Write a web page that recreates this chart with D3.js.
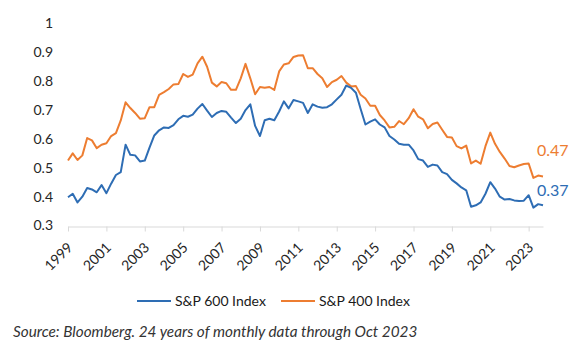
<!DOCTYPE html>
<html>
<head>
<meta charset="utf-8">
<script src="https://cdn.jsdelivr.net/npm/d3@7"></script>
<style>
  body { margin: 0; background: #fff; }
  svg { font-family: Lato, "Open Sans", sans-serif; }
</style>
</head>
<body>
<div id="chart"></div>
<script>
// Quarterly readings, Jan 1999 .. Oct 2023
const startDate = new Date(1999, 0, 1);
const endDate = new Date(2023, 9, 1);

const sp600 = [
  0.398, 0.41, 0.38, 0.40, 0.43, 0.425, 0.415, 0.44, 0.412, 0.445,
  0.475, 0.485, 0.58, 0.545, 0.543, 0.522, 0.525, 0.57, 0.612, 0.63,
  0.64, 0.638, 0.648, 0.668, 0.68, 0.677, 0.684, 0.705, 0.721, 0.698,
  0.676, 0.69, 0.697, 0.694, 0.674, 0.655, 0.67, 0.70, 0.72, 0.645,
  0.61, 0.665, 0.67, 0.665, 0.695, 0.73, 0.706, 0.735, 0.73, 0.725,
  0.69, 0.72, 0.712, 0.708, 0.71, 0.72, 0.737, 0.753, 0.785, 0.777,
  0.76, 0.704, 0.65, 0.66, 0.668, 0.65, 0.64, 0.61, 0.598, 0.583,
  0.58, 0.58, 0.56, 0.53, 0.525, 0.503, 0.511, 0.508, 0.485, 0.478,
  0.458, 0.446, 0.432, 0.422, 0.365, 0.37, 0.38, 0.41, 0.45, 0.428,
  0.40, 0.39, 0.392, 0.387, 0.385, 0.386, 0.405, 0.362, 0.374, 0.37
];

const sp400 = [
  0.525, 0.55, 0.527, 0.543, 0.603, 0.595, 0.568, 0.58, 0.585, 0.61,
  0.62, 0.664, 0.727, 0.707, 0.69, 0.67, 0.672, 0.71, 0.71, 0.753,
  0.762, 0.773, 0.789, 0.79, 0.825, 0.815, 0.823, 0.862, 0.885, 0.85,
  0.795, 0.782, 0.797, 0.793, 0.77, 0.77, 0.81, 0.86, 0.81, 0.755,
  0.78, 0.777, 0.78, 0.77, 0.834, 0.858, 0.862, 0.884, 0.889, 0.89,
  0.845, 0.845, 0.825, 0.81, 0.78, 0.797, 0.805, 0.818, 0.795, 0.782,
  0.783, 0.753, 0.74, 0.715, 0.715, 0.683, 0.664, 0.64, 0.642, 0.662,
  0.651, 0.672, 0.703, 0.677, 0.668, 0.637, 0.652, 0.657, 0.632, 0.607,
  0.605, 0.575, 0.567, 0.577, 0.515, 0.525, 0.514, 0.575, 0.622, 0.583,
  0.555, 0.532, 0.506, 0.502, 0.508, 0.513, 0.515, 0.465, 0.473, 0.47
];

const yTicks = [0.3, 0.4, 0.5, 0.6, 0.7, 0.8, 0.9, 1];
const xTickYears = [1999, 2001, 2003, 2005, 2007, 2009, 2011, 2013, 2015, 2017, 2019, 2021, 2023];
const seriesNames = ["S&P 600 Index", "S&P 400 Index"];
const endLabels = ["0.37", "0.47"];

const blue = "#2E6DB4";
const orange = "#ED7D31";

const width = 583, height = 350;

const svg = d3.select("#chart").append("svg")
  .attr("width", width)
  .attr("height", height);

const dates = d3.timeMonth.every(3).range(startDate, d3.timeMonth.offset(endDate, 1));

const x = d3.scaleTime()
  .domain([startDate, endDate])
  .range([68, 543]);

const y = d3.scaleLinear()
  .domain([0.3, 1])
  .range([225.5, 23.5]);

// y labels (no axis line)
svg.append("g")
  .selectAll("text")
  .data(yTicks)
  .enter().append("text")
  .attr("x", 53)
  .attr("y", d => y(d))
  .attr("dy", "0.35em")
  .attr("text-anchor", "end")
  .style("font-size", "14px")
  .style("fill", "#262626")
  .text(d => d3.format("")(d));

// x axis
const xAxis = svg.append("g")
  .attr("transform", `translate(0,${y(0.3) + 1})`)
  .call(d3.axisBottom(x)
    .tickValues(xTickYears.map(yr => new Date(yr, 0, 1)))
    .tickSize(5)
    .tickSizeOuter(0)
    .tickFormat(d3.timeFormat("%Y")));

xAxis.select(".domain").attr("stroke", "#d9d9d9");
xAxis.selectAll(".tick line").attr("stroke", "#d9d9d9");
xAxis.selectAll(".tick text")
  .attr("y", 0)
  .attr("dy", 0)
  .attr("text-anchor", "end")
  .attr("transform", "translate(5,22) rotate(-45)")
  .style("font-family", "Lato, sans-serif")
  .style("font-size", "14px")
  .style("fill", "#262626");

// lines
const line = d3.line()
  .x((d, i) => x(dates[i]))
  .y(d => y(d));

svg.append("path")
  .datum(sp400)
  .attr("fill", "none")
  .attr("stroke", orange)
  .attr("stroke-width", 2)
  .attr("stroke-linejoin", "round")
  .attr("d", line);

svg.append("path")
  .datum(sp600)
  .attr("fill", "none")
  .attr("stroke", blue)
  .attr("stroke-width", 2)
  .attr("stroke-linejoin", "round")
  .attr("d", line);

// end labels
svg.append("text")
  .attr("x", 537)
  .attr("y", 156)
  .style("font-size", "16px")
  .style("fill", orange)
  .text(endLabels[1]);

svg.append("text")
  .attr("x", 537)
  .attr("y", 196)
  .style("font-size", "16px")
  .style("fill", blue)
  .text(endLabels[0]);

// legend
const legend = svg.append("g");
const legendItems = [
  { name: seriesNames[0], color: blue, x: 137 },
  { name: seriesNames[1], color: orange, x: 281 }
];
legendItems.forEach(item => {
  legend.append("line")
    .attr("x1", item.x).attr("x2", item.x + 34)
    .attr("y1", 301).attr("y2", 301)
    .attr("stroke", item.color)
    .attr("stroke-width", 2);
  legend.append("text")
    .attr("x", item.x + 38)
    .attr("y", 301)
    .attr("dy", "0.35em")
    .style("font-size", "14px")
    .style("fill", "#1a1a1a")
    .text(item.name);
});

// source note
svg.append("text")
  .attr("x", 13)
  .attr("y", 337)
  .style("font-size", "15.3px")
  .style("font-style", "italic")
  .style("fill", "#333")
  .text("Source: Bloomberg. 24 years of monthly data through Oct 2023");
</script>
</body>
</html>
